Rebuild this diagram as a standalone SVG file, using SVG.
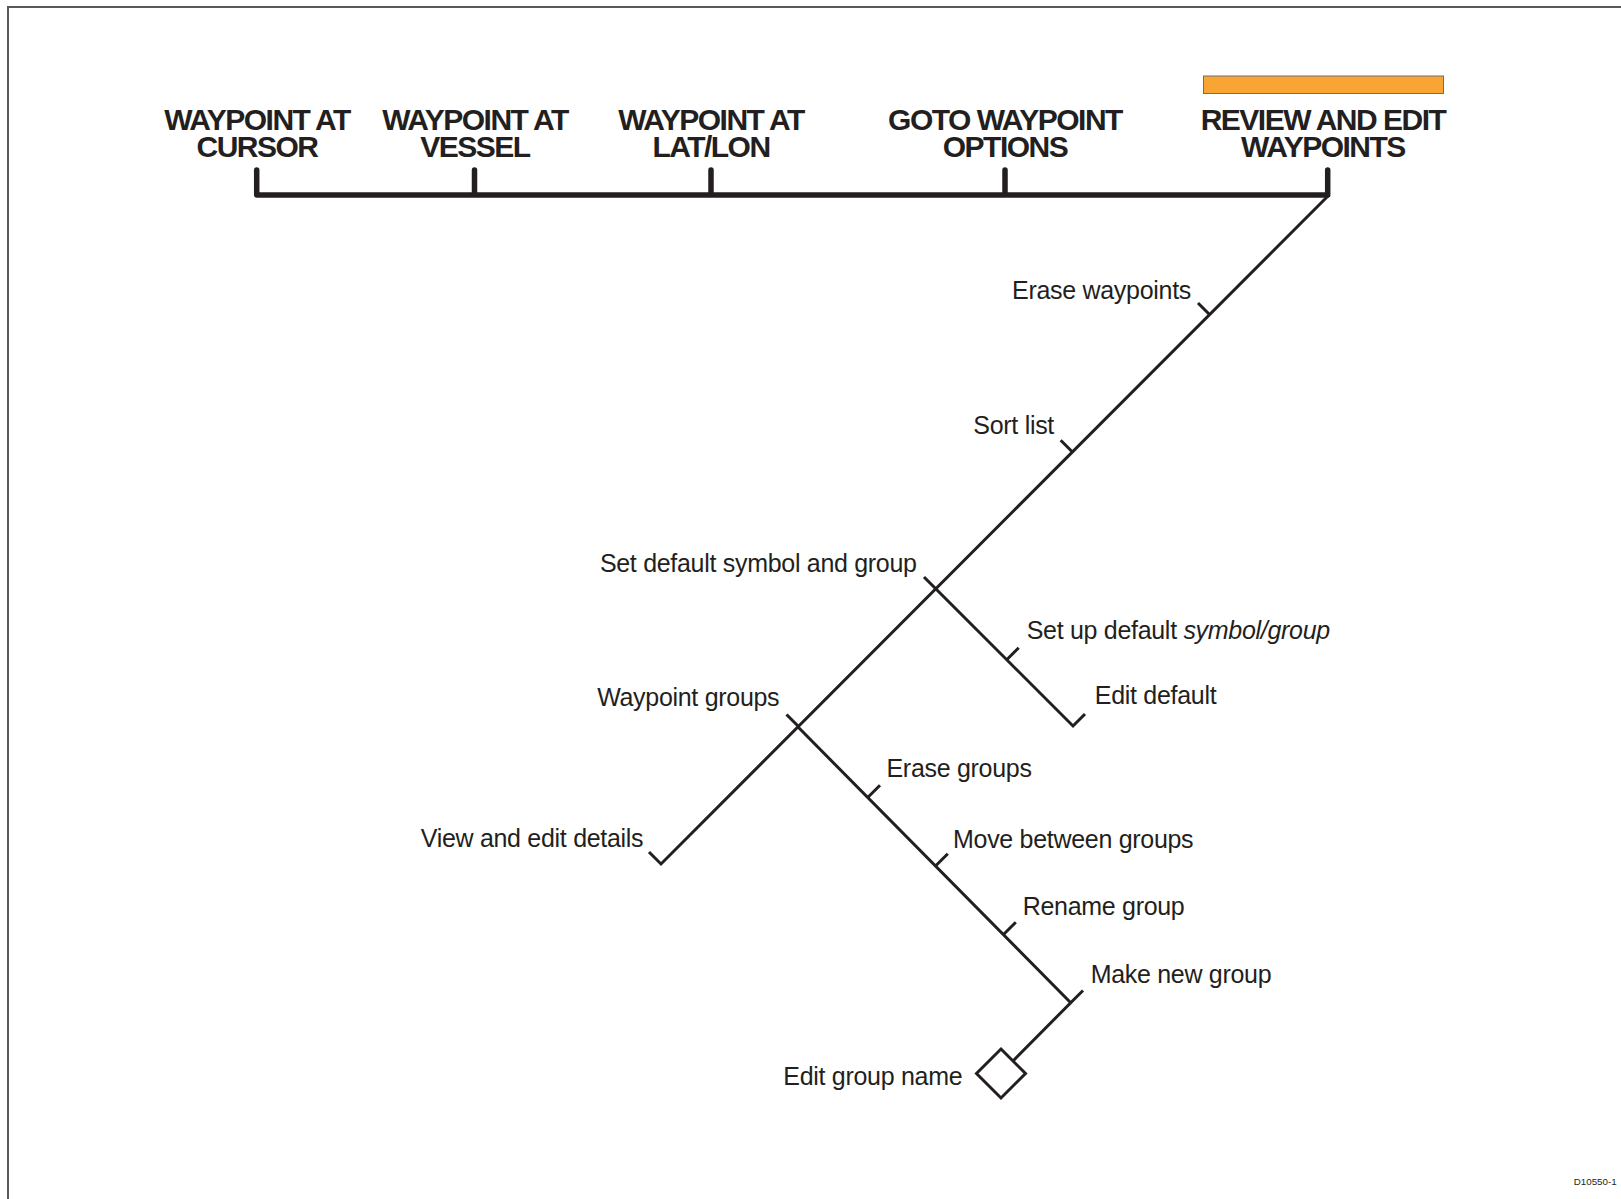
<svg xmlns="http://www.w3.org/2000/svg" width="1621" height="1199" viewBox="0 0 1621 1199">
<style>
.hd{font-family:"Liberation Sans",Arial,sans-serif;font-weight:bold;font-size:30px;letter-spacing:-1.5px;fill:#231f20;text-anchor:middle}
.lb{font-family:"Liberation Sans",Arial,sans-serif;font-size:25px;letter-spacing:-0.3px;fill:#231f20}
.r{text-anchor:end}
.bar{fill:none;stroke:#231f20;stroke-width:5.5;stroke-linecap:round;stroke-linejoin:round}
.ln{fill:none;stroke:#231f20;stroke-width:3;stroke-linejoin:miter}
</style>
<rect width="1621" height="1199" fill="#ffffff"/>
<path d="M8,1199 V7 H1621" fill="none" stroke="#58595b" stroke-width="2"/>
<g id="headers">
<g id="n-cursor"><text class="hd" x="257" y="130">WAYPOINT AT<tspan x="257" y="156.7">CURSOR</tspan></text></g>
<g id="n-vessel"><text class="hd" x="475" y="130">WAYPOINT AT<tspan x="475" y="156.7">VESSEL</tspan></text></g>
<g id="n-latlon"><text class="hd" x="711" y="130">WAYPOINT AT<tspan x="711" y="156.7">LAT/LON</tspan></text></g>
<g id="n-goto"><text class="hd" x="1005" y="130">GOTO WAYPOINT<tspan x="1005" y="156.7">OPTIONS</tspan></text></g>
<g id="n-review"><rect x="1203.5" y="76" width="240" height="17.5" fill="#f9a533" stroke="#6d6e71" stroke-width="1"/><text class="hd" x="1323" y="130">REVIEW AND EDIT<tspan x="1323" y="156.7">WAYPOINTS</tspan></text></g>
</g>
<g id="connectors">
<path class="bar" d="M256.7,170 V195 H1327.7 V170 M474.5,170 V195 M711,170 V195 M1005,170 V195"/>
<path class="ln" d="M1328,196 L661,864 L649,852"/>
<path class="ln" d="M1210,315 L1198,303 M1072.7,452.3 L1060.7,440.3 M936,589 L924,577 M798.5,726.5 L786.5,714.5"/>
<path class="ln" d="M936,589 L1073,726 L1085,714 M1006.7,659.7 L1018.7,647.7"/>
<path class="ln" d="M798.3,727.3 L1070.7,1002.7 L1013,1061 M1070.7,1002.7 L1083,990.5 M867.7,797.5 L880,785.2 M935.5,866 L947.8,853.7 M1003.5,934.5 L1015.8,922.2"/>
</g>
<g id="n-erase-waypoints"><text class="lb r" x="1191" y="299">Erase waypoints</text></g>
<g id="n-sort-list"><text class="lb r" x="1054" y="434.3">Sort list</text></g>
<g id="n-set-default"><text class="lb r" x="916.7" y="571.7">Set default symbol and group</text></g>
<g id="n-setup-default"><text class="lb" x="1026.7" y="638.5">Set up default <tspan font-style="italic">symbol/group</tspan></text></g>
<g id="n-edit-default"><text class="lb" x="1094.8" y="704">Edit default</text></g>
<g id="n-waypoint-groups"><text class="lb r" x="779.3" y="705.5">Waypoint groups</text></g>
<g id="n-view-edit"><text class="lb r" x="643.3" y="846.7">View and edit details</text></g>
<g id="n-erase-groups"><text class="lb" x="886.5" y="776.7">Erase groups</text></g>
<g id="n-move-between"><text class="lb" x="953" y="847.5">Move between groups</text></g>
<g id="n-rename"><text class="lb" x="1022.7" y="915">Rename group</text></g>
<g id="n-make-new"><text class="lb" x="1090.7" y="983.3">Make new group</text></g>
<g id="n-edit-name"><polygon points="1001,1049 1025.5,1073.5 1001,1098 976.5,1073.5" fill="#ffffff" stroke="#231f20" stroke-width="3"/><text class="lb r" x="962.3" y="1085">Edit group name</text></g>
<text x="1616.7" y="1185" font-family="'Liberation Sans',Arial,sans-serif" font-size="9.8" fill="#231f20" text-anchor="end">D10550-1</text>
</svg>
